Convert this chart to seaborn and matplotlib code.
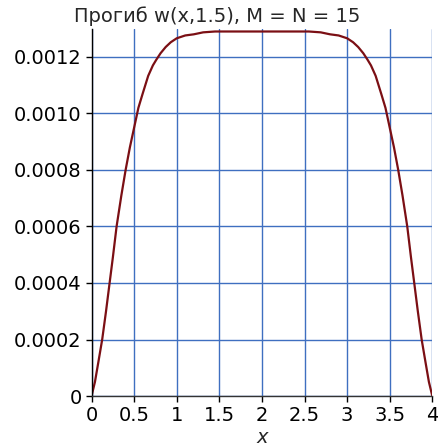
import numpy as np
import pandas as pd
import matplotlib
matplotlib.use("Agg")
import matplotlib.pyplot as plt
import seaborn as sns

# deflection w(x, 1.5)
x_vals = [0.0, 0.04, 0.08, 0.125, 0.17, 0.212, 0.25, 0.294, 0.35, 0.40, 0.45,
          0.50, 0.55, 0.60, 0.665, 0.72, 0.76, 0.81, 0.87, 0.93, 1.0, 1.1,
          1.2, 1.31, 1.45, 1.6, 2.0, 2.4, 2.55, 2.69, 2.8, 2.9, 3.0, 3.07,
          3.13, 3.19, 3.24, 3.28, 3.335, 3.40, 3.45, 3.50, 3.55, 3.60, 3.65,
          3.706, 3.75, 3.788, 3.83, 3.875, 3.92, 3.96, 4.0]
w_vals = [0.0, 0.00005, 0.00012, 0.0002, 0.0003, 0.0004, 0.00049, 0.0006,
          0.00071, 0.0008, 0.00088, 0.00095, 0.00102, 0.00107, 0.001133,
          0.00117, 0.00119, 0.001213, 0.001235, 0.001252, 0.001266,
          0.001276, 0.00128, 0.001287, 0.00129, 0.00129, 0.00129, 0.00129,
          0.00129, 0.001287, 0.00128, 0.001276, 0.001266, 0.001252,
          0.001235, 0.001213, 0.00119, 0.00117, 0.001133, 0.00107, 0.00102,
          0.00095, 0.00088, 0.0008, 0.00071, 0.0006, 0.00049, 0.0004,
          0.0003, 0.0002, 0.00012, 0.00005, 0.0]

x_ticks = [0, 0.5, 1, 1.5, 2, 2.5, 3, 3.5, 4]
x_labels = ["0", "0.5", "1", "1.5", "2", "2.5", "3", "3.5", "4"]
y_ticks = [0, 0.0002, 0.0004, 0.0006, 0.0008, 0.0010, 0.0012]
y_labels = ["0", "0.0002", "0.0004", "0.0006", "0.0008", "0.0010", "0.0012"]

sns.set_theme(style="white")
plt.rcParams['font.family'] = ['DejaVu Sans']

df = pd.DataFrame({"x": x_vals, "w": w_vals})

fig = plt.figure(figsize=(4.38, 4.48), dpi=100)
ax = fig.add_axes([0.209, 0.116, 0.778, 0.82])

sns.lineplot(data=df, x="x", y="w", color="#7b0f14", linewidth=1.6, ax=ax)

ax.set_xlim(0, 4)
ax.set_ylim(0, 0.0013)
ax.set_xticks(x_ticks)
ax.set_xticklabels(x_labels)
ax.set_yticks(y_ticks)
ax.set_yticklabels(y_labels)

ax.grid(True, color="#3f6fc0", linewidth=1.0)
ax.set_axisbelow(True)
for s in ["top", "right"]:
    ax.spines[s].set_visible(False)
ax.spines["left"].set_color("black")
ax.spines["bottom"].set_color("#333333")
ax.spines["left"].set_linewidth(1.0)
ax.spines["bottom"].set_linewidth(1.0)

ax.tick_params(axis="both", direction="out", length=4, width=1, color="black",
               labelsize=14, labelcolor="black", bottom=True, left=True)
ax.tick_params(axis="y", pad=3)
ax.tick_params(axis="x", pad=3)

ax.set_xlabel("x", fontsize=14, style="italic", labelpad=2)
ax.set_ylabel("")
fig.text(0.497, 0.965, "Прогиб w(x,1.5), M = N = 15", ha="center", va="center",
         fontsize=14)

fig.savefig("out.png", dpi=100)
